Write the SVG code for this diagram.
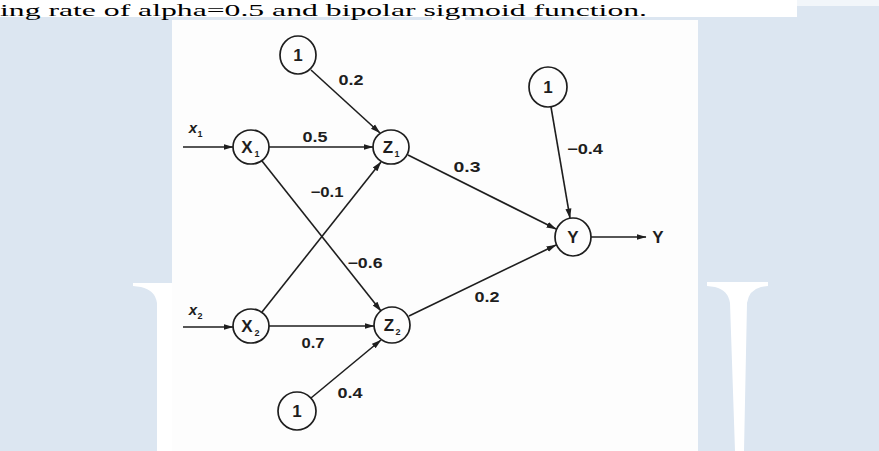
<svg xmlns="http://www.w3.org/2000/svg" width="879" height="451" viewBox="0 0 879 451">
<defs>
<style>
.node{fill:none;stroke:#1e1e1e;stroke-width:1.7}
.edge{stroke:#1e1e1e;stroke-width:1.6;fill:none;marker-end:url(#ah)}
.nt{font-family:"Liberation Sans",Arial,sans-serif;font-weight:bold;font-size:17px;fill:#1e1e1e;text-anchor:middle}
.sub{font-family:"Liberation Sans",Arial,sans-serif;font-weight:bold;font-size:9px;fill:#1e1e1e;text-anchor:middle}
.lbl{font-family:"Liberation Sans",Arial,sans-serif;font-weight:bold;font-size:14px;fill:#1e1e1e;text-anchor:middle}
.inp{font-family:"Liberation Sans",Arial,sans-serif;font-style:italic;font-weight:bold;font-size:15px;fill:#1e1e1e;text-anchor:middle}
</style>
<marker id="ah" markerWidth="10" markerHeight="8" refX="9.5" refY="4" orient="auto" markerUnits="userSpaceOnUse">
<path d="M0,1 L10,4 L0,7 Z" fill="#1e1e1e"/>
</marker>
</defs>

<!-- background -->
<rect x="0" y="0" width="879" height="451" fill="#dce6f1"/>
<rect x="797" y="0" width="82" height="6" fill="#f2f6fa"/>
<rect x="0" y="0" width="797" height="17" fill="#ffffff"/>
<rect x="432" y="16" width="33" height="5" fill="#ffffff"/>
<path d="M133,283 L172,283 L172,451 L157,451 L157,303 Q155,290 141,287 L133,286 Z" fill="#ffffff"/>
<path d="M707,282 L768,282 L768,286 L761,287 Q749,290 747,303 L744,451 L735,451 L730,303 Q728,290 715,287 L707,286 Z" fill="#ffffff"/>
<rect x="172" y="20" width="526" height="431" fill="#fdfdfd"/>

<text x="0" y="15.5" font-family="'Liberation Serif','Times New Roman',serif" font-size="17" fill="#000" textLength="647" lengthAdjust="spacingAndGlyphs">ing rate of alpha=0.5 and bipolar sigmoid function.</text>

<!-- connectors -->
<g id="connectors">
<line class="edge" x1="183" y1="147" x2="233" y2="147"/>
<line class="edge" x1="183" y1="327" x2="233" y2="327"/>
<line class="edge" x1="269" y1="147" x2="373" y2="147"/>
<line class="edge" x1="269" y1="326" x2="374" y2="326"/>
<line class="edge" x1="262" y1="161" x2="381" y2="311"/>
<line class="edge" x1="262" y1="312" x2="381" y2="162"/>
<line class="edge" x1="311" y1="70" x2="380" y2="133"/>
<line class="edge" x1="311" y1="398" x2="381" y2="340"/>
<line class="edge" x1="408" y1="155" x2="556" y2="229"/>
<line class="edge" x1="409" y1="316" x2="556" y2="245"/>
<line class="edge" x1="551" y1="107" x2="570" y2="218"/>
<line class="edge" x1="591" y1="237" x2="646" y2="237"/>
<text class="lbl" x="351" y="85" textLength="25" lengthAdjust="spacingAndGlyphs">0.2</text>
<text class="lbl" x="315" y="142" textLength="25" lengthAdjust="spacingAndGlyphs">0.5</text>
<text class="lbl" x="327" y="197" textLength="33" lengthAdjust="spacingAndGlyphs">−0.1</text>
<text class="lbl" x="467" y="172" textLength="27" lengthAdjust="spacingAndGlyphs">0.3</text>
<text class="lbl" x="585" y="154" textLength="36" lengthAdjust="spacingAndGlyphs">−0.4</text>
<text class="lbl" x="365" y="268" textLength="35" lengthAdjust="spacingAndGlyphs">−0.6</text>
<text class="lbl" x="487" y="302" textLength="25" lengthAdjust="spacingAndGlyphs">0.2</text>
<text class="lbl" x="313" y="348" textLength="23" lengthAdjust="spacingAndGlyphs">0.7</text>
<text class="lbl" x="350" y="398" textLength="25" lengthAdjust="spacingAndGlyphs">0.4</text>
<text class="inp" x="193" y="133">x</text><text class="sub" x="200" y="137">1</text>
<text class="inp" x="193" y="315">x</text><text class="sub" x="200" y="319">2</text>
<text class="nt" x="658" y="243">Y</text>
</g>

<!-- nodes -->
<g id="bias1"><ellipse class="node" cx="298" cy="55" rx="18" ry="19"/><text class="nt" x="298" y="61" font-size="15">1</text></g>
<g id="bias2"><ellipse class="node" cx="548" cy="87" rx="19" ry="20"/><text class="nt" x="548" y="93" font-size="15">1</text></g>
<g id="bias3"><ellipse class="node" cx="297" cy="411" rx="19" ry="19"/><text class="nt" x="297" y="417" font-size="15">1</text></g>
<g id="X1"><ellipse class="node" cx="251" cy="147" rx="18" ry="17"/><text class="nt" x="247" y="153">X</text><text class="sub" x="257" y="157">1</text></g>
<g id="X2"><ellipse class="node" cx="251" cy="326" rx="18" ry="17"/><text class="nt" x="247" y="332">X</text><text class="sub" x="257" y="336">2</text></g>
<g id="Z1"><ellipse class="node" cx="391" cy="147" rx="18" ry="17"/><text class="nt" x="388" y="153">Z</text><text class="sub" x="397" y="157">1</text></g>
<g id="Z2"><ellipse class="node" cx="392" cy="325" rx="18" ry="18"/><text class="nt" x="389" y="331">Z</text><text class="sub" x="398" y="335">2</text></g>
<g id="Y"><ellipse class="node" cx="573" cy="237" rx="18" ry="19"/><text class="nt" x="573" y="243">Y</text></g>
</svg>
